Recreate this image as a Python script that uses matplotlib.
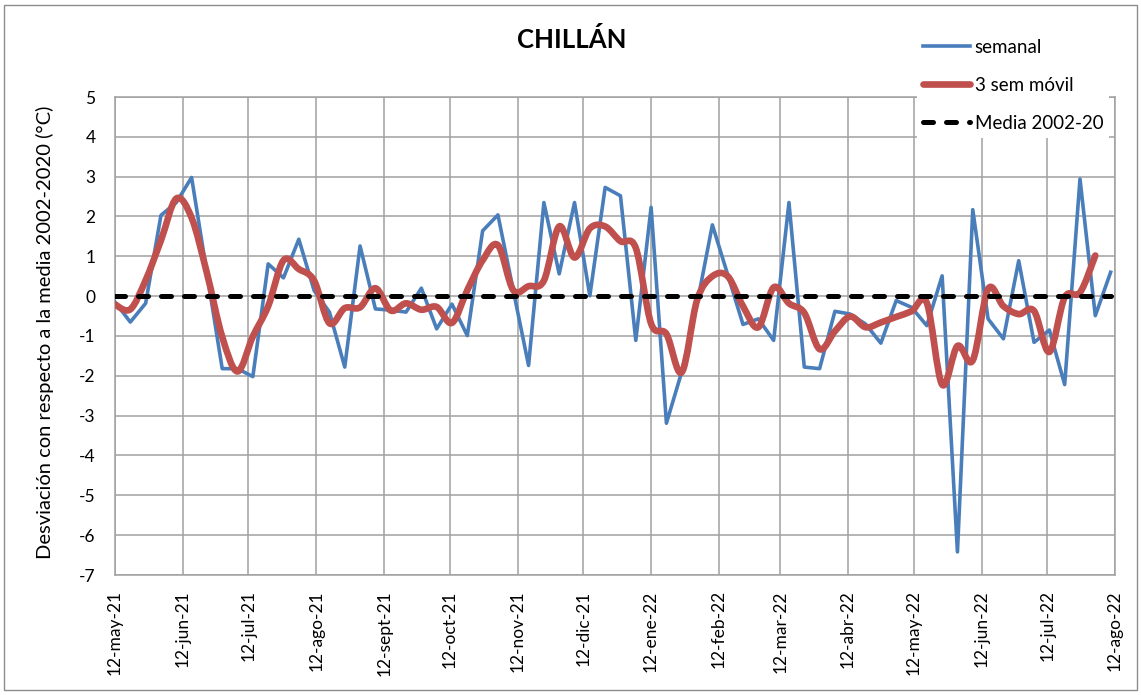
import datetime as dt
import matplotlib
matplotlib.use("Agg")
import matplotlib.pyplot as plt
import matplotlib.dates as mdates
from matplotlib.path import Path
from matplotlib.patches import PathPatch, Rectangle
from matplotlib.lines import Line2D

plt.rcParams['font.family'] = ['Lato', 'DejaVu Sans']
plt.rcParams['axes.unicode_minus'] = False

# anomalia semanal (°C) desde 12-may-21
semanal = [-0.15, -0.65, -0.18, 2.03, 2.35, 2.98, 0.58, -1.82, -1.82, -2.02,
           0.81, 0.46, 1.43, 0.14, -0.40, -1.78, 1.26, -0.32, -0.35, -0.40,
           0.20, -0.82, -0.20, -0.99, 1.64, 2.04, 0.15, -1.74, 2.35, 0.56,
           2.35, 0.01, 2.73, 2.52, -1.11, 2.23, -3.19, -1.90, -0.20, 1.79,
           0.54, -0.71, -0.57, -1.11, 2.35, -1.78, -1.82, -0.38, -0.45, -0.70,
           -1.18, -0.11, -0.28, -0.74, 0.51, -6.42, 2.17, -0.57, -1.07, 0.89,
           -1.16, -0.85, -2.22, 2.94, -0.49, 0.60]

# promedio movil 3 semanas
movil = [-0.21, -0.33, 0.40, 1.40, 2.45, 1.97, 0.58, -1.02, -1.89, -1.01,
         -0.25, 0.90, 0.68, 0.39, -0.68, -0.30, -0.28, 0.20, -0.36, -0.18,
         -0.34, -0.27, -0.67, 0.15, 0.90, 1.28, 0.15, 0.25, 0.39, 1.75,
         0.97, 1.70, 1.75, 1.38, 1.21, -0.69, -0.95, -1.91, -0.10, 0.50,
         0.50, -0.25, -0.78, 0.22, -0.18, -0.42, -1.33, -0.88, -0.51, -0.78,
         -0.66, -0.52, -0.38, -0.17, -2.22, -1.25, -1.61, 0.18, -0.25, -0.45,
         -0.37, -1.40, -0.03, 0.09, 1.02]

media = [0.0] * len(semanal)

inicio = dt.date(2021, 5, 12)
fechas = [inicio + dt.timedelta(days=7 * i) for i in range(len(semanal))]

tick_fechas = [dt.date(2021 + (4 + k) // 12, (4 + k) % 12 + 1, 12) for k in range(16)]
tick_labels = ["12-may-21", "12-jun-21", "12-jul-21", "12-ago-21", "12-sept-21",
               "12-oct-21", "12-nov-21", "12-dic-21", "12-ene-22", "12-feb-22",
               "12-mar-22", "12-abr-22", "12-may-22", "12-jun-22", "12-jul-22",
               "12-ago-22"]

azul = '#4a7ebb'
rojo = '#c0504d'
gris = '#a0a0a0'


def suavizado(xs, ys):
    # curva tipo "linea suavizada" de Excel
    verts = [(xs[0], ys[0])]
    codes = [Path.MOVETO]
    n = len(xs)
    for i in range(n - 1):
        p0 = (xs[i - 1], ys[i - 1]) if i > 0 else (xs[i], ys[i])
        p1 = (xs[i], ys[i])
        p2 = (xs[i + 1], ys[i + 1])
        p3 = (xs[i + 2], ys[i + 2]) if i + 2 < n else p2
        c1 = (p1[0] + (p2[0] - p0[0]) / 6, p1[1] + (p2[1] - p0[1]) / 6)
        c2 = (p2[0] - (p3[0] - p1[0]) / 6, p2[1] - (p3[1] - p1[1]) / 6)
        verts += [c1, c2, p2]
        codes += [Path.CURVE4] * 3
    return Path(verts, codes)


W, H = 1141, 695
fig = plt.figure(figsize=(W / 100, H / 100), dpi=100)
ax = fig.add_axes([115 / W, 1 - 575 / H, 1000 / W, 478 / H])

ax.plot(fechas, semanal, color=azul, lw=2.6, zorder=3)

xnum = mdates.date2num(fechas[:len(movil)])
ax.add_patch(PathPatch(suavizado(list(xnum), movil), fill=False, edgecolor=rojo,
                       lw=4.8, capstyle='round', joinstyle='round', zorder=4))

ln_media, = ax.plot(fechas, media, color='black', lw=3.6, zorder=5,
                    dash_capstyle='round')
ln_media.set_dashes([2.0, 2.6])

ax.set_xlim(dt.date(2021, 5, 12), dt.date(2022, 8, 12))
ax.set_ylim(-7, 5)
ax.set_yticks(range(-7, 6))
ax.set_xticks(tick_fechas)
ax.set_xticklabels(tick_labels, rotation=90, fontsize=12.5)
ax.tick_params(axis='y', labelsize=12.5, length=0, pad=14)
ax.tick_params(axis='x', length=0, pad=11)
ax.grid(True, color=gris, lw=1.1)
ax.set_axisbelow(True)
for s in ax.spines.values():
    s.set_color(gris)
    s.set_linewidth(1.1)

fig.text(45 / W, 1 - 332 / H, 'Desviación con respecto a la media 2002-2020 (°C)',
         rotation=90, ha='center', va='center', fontsize=14.5)
fig.text(572 / W, 1 - 40 / H, 'CHILLÁN', ha='center', va='center',
         fontsize=18.5, fontweight='bold')

h_sem = Line2D([], [], color=azul, lw=2.6)
h_mov = Line2D([], [], color=rojo, lw=4.8, solid_capstyle='round')
h_med = Line2D([], [], color='black', lw=3.6, dash_capstyle='round')
h_med.set_dashes([2.0, 2.6])
leg = fig.legend([h_sem, h_mov, h_med], ['semanal', '3 sem móvil', 'Media 2002-20'],
                 loc='upper left', bbox_to_anchor=(908 / W, 1 - 24 / H),
                 fontsize=13.5, handlelength=2.5, handletextpad=0.25,
                 labelspacing=1.12, borderpad=0.3, frameon=True, fancybox=False)
leg.get_frame().set_facecolor('white')
leg.get_frame().set_edgecolor('none')
leg.get_frame().set_alpha(1)

fig.patches.append(Rectangle((4 / W, 5 / H), 1133 / W, 685 / H, transform=fig.transFigure,
                             fill=False, edgecolor='#8c8c8c', lw=1))

fig.savefig('out.png', dpi=100)
